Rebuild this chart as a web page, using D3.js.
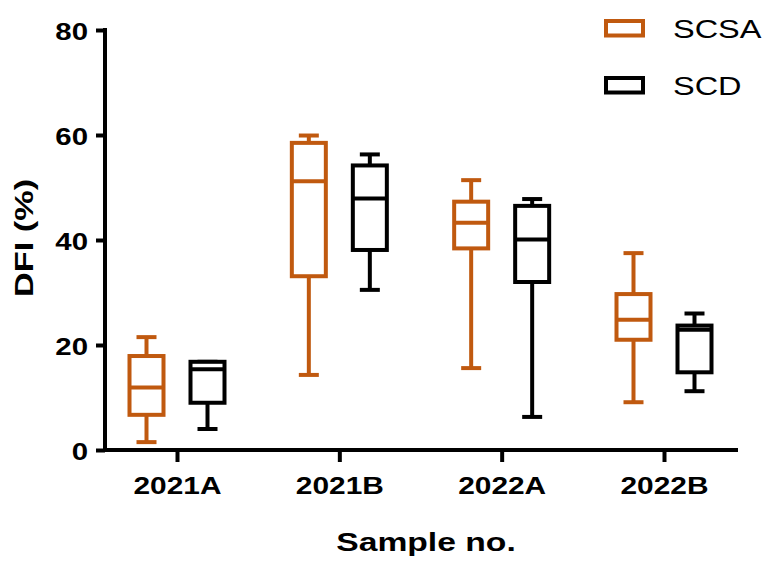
<!DOCTYPE html>
<html>
<head>
<meta charset="utf-8">
<script src="https://cdn.jsdelivr.net/npm/d3@7"></script>
<style>
  html, body { margin: 0; padding: 0; background: #fff; }
  svg { display: block; }
  text { font-family: "Liberation Sans", Arial, sans-serif; fill: #000; }
</style>
</head>
<body>
<svg id="chart" width="769" height="561"></svg>
<script>
// Sample groups and the two DFI methods
const categories = ["2021A", "2021B", "2022A", "2022B"];
const series = ["SCSA", "SCD"];

// Five-number summaries, DFI (%)
const scsaMin    = [1.5, 14.3, 15.6, 9.1];
const scsaQ1     = [6.7, 33.1, 38.4, 21.0];
const scsaMedian = [11.9, 51.2, 43.3, 24.8];
const scsaQ3     = [17.9, 58.5, 47.3, 29.7];
const scsaMax    = [21.5, 59.9, 51.4, 37.5];

const scdMin    = [4.0, 30.5, 6.3, 11.2];
const scdQ1     = [9.0, 38.1, 32.0, 14.8];
const scdMedian = [15.4, 47.9, 40.1, 22.9];
const scdQ3     = [16.8, 54.2, 46.5, 23.7];
const scdMax    = [16.8, 56.3, 47.8, 26.0];

const yTicks = [0, 20, 40, 60, 80];
const xTitle = "Sample no.";
const yTitle = "DFI (%)";

const colors = { SCSA: "#C0590F", SCD: "#000000" };

const summaries = {
  SCSA: { min: scsaMin, q1: scsaQ1, med: scsaMedian, q3: scsaQ3, max: scsaMax },
  SCD:  { min: scdMin,  q1: scdQ1,  med: scdMedian,  q3: scdQ3,  max: scdMax }
};

const rows = [];
categories.forEach((c, i) => {
  series.forEach(s => {
    const d = summaries[s];
    rows.push({ cat: c, series: s, min: d.min[i], q1: d.q1[i], med: d.med[i], q3: d.q3[i], max: d.max[i] });
  });
});

const svg = d3.select("#chart");

// Layout
const plotLeft = 105, plotRight = 738, plotTop = 30, plotBottom = 450;
const boxW = 34, capW = 20, lw = 4;

const y = d3.scaleLinear().domain([0, 80]).range([plotBottom, plotTop]);
const x = d3.scalePoint().domain(categories).range([177, 664]);
const offset = d3.scalePoint().domain(series).range([-30.5, 30.5]);

// Wide lettering: scale each text horizontally about its own anchor point
function widen(sel, k) {
  sel.each(function () {
    const t = d3.select(this);
    const ax = +t.attr("x") || 0;
    const ay = +t.attr("y") || 0;
    const prev = t.attr("transform") || "";
    t.attr("transform", `${prev} translate(${ax},${ay}) scale(${k},1) translate(${-ax},${-ay})`);
  });
}

// Y axis
const yAxisG = svg.append("g")
  .attr("transform", `translate(${plotLeft},0)`)
  .call(d3.axisLeft(y).tickValues(yTicks).tickSize(9).tickSizeOuter(0).tickPadding(8).tickFormat(d3.format("d")));
yAxisG.select(".domain").remove();
yAxisG.selectAll(".tick line").attr("stroke", "#000").attr("stroke-width", lw);
yAxisG.selectAll(".tick text")
  .attr("dy", "0.4em")
  .style("font-size", "24.5px").style("font-weight", "bold");
widen(yAxisG.selectAll(".tick text"), 1.2);
svg.append("line")
  .attr("x1", plotLeft).attr("x2", plotLeft)
  .attr("y1", y(80) - lw / 2).attr("y2", plotBottom)
  .attr("stroke", "#000").attr("stroke-width", lw);

// X axis
const xAxisG = svg.append("g")
  .attr("transform", `translate(0,${plotBottom})`)
  .call(d3.axisBottom(x).tickSize(12).tickSizeOuter(0).tickPadding(15));
xAxisG.select(".domain").remove();
xAxisG.selectAll(".tick line").attr("stroke", "#000").attr("stroke-width", lw);
xAxisG.selectAll(".tick text")
  .style("font-size", "24.5px").style("font-weight", "bold");
widen(xAxisG.selectAll(".tick text"), 1.22);
svg.append("line")
  .attr("x1", plotLeft - lw / 2).attr("x2", plotRight)
  .attr("y1", plotBottom).attr("y2", plotBottom)
  .attr("stroke", "#000").attr("stroke-width", lw);

// Axis titles
const xt = svg.append("text")
  .attr("x", 426).attr("y", 551.5)
  .attr("text-anchor", "middle")
  .style("font-size", "25.5px").style("font-weight", "bold")
  .text(xTitle);
widen(xt, 1.32);

const yt = svg.append("text")
  .attr("transform", "translate(33,238) rotate(-90) scale(1.32,1)")
  .attr("text-anchor", "middle")
  .style("font-size", "26px").style("font-weight", "bold")
  .text(yTitle);

// Box plots
const boxes = svg.append("g").selectAll("g.box")
  .data(rows)
  .join("g")
  .attr("class", "box")
  .attr("transform", d => `translate(${x(d.cat) + offset(d.series)},0)`)
  .attr("stroke", d => colors[d.series])
  .attr("stroke-width", lw)
  .attr("fill", "none");

// lower whisker and cap
boxes.append("line")
  .attr("x1", 0).attr("x2", 0)
  .attr("y1", d => y(d.min)).attr("y2", d => y(d.q1));
boxes.append("line")
  .attr("x1", -capW / 2).attr("x2", capW / 2)
  .attr("y1", d => y(d.min)).attr("y2", d => y(d.min));
// upper whisker and cap
boxes.append("line")
  .attr("x1", 0).attr("x2", 0)
  .attr("y1", d => y(d.max)).attr("y2", d => y(d.q3));
boxes.append("line")
  .attr("x1", -capW / 2).attr("x2", capW / 2)
  .attr("y1", d => y(d.max)).attr("y2", d => y(d.max));
// box
boxes.append("rect")
  .attr("x", -boxW / 2).attr("width", boxW)
  .attr("y", d => y(d.q3)).attr("height", d => y(d.q1) - y(d.q3))
  .attr("fill", "#fff");
// median
boxes.append("line")
  .attr("x1", -boxW / 2).attr("x2", boxW / 2)
  .attr("y1", d => y(d.med)).attr("y2", d => y(d.med));

// Legend
const legend = svg.append("g").selectAll("g")
  .data(series)
  .join("g")
  .attr("transform", (d, i) => `translate(606,${21 + i * 57})`);
legend.append("rect")
  .attr("width", 37).attr("height", 14.5)
  .attr("fill", "none")
  .attr("stroke", d => colors[d])
  .attr("stroke-width", lw);
const lt = legend.append("text")
  .attr("x", 67).attr("y", 16.5)
  .style("font-size", "25px")
  .text(d => d);
widen(lt, 1.3);
</script>
</body>
</html>
